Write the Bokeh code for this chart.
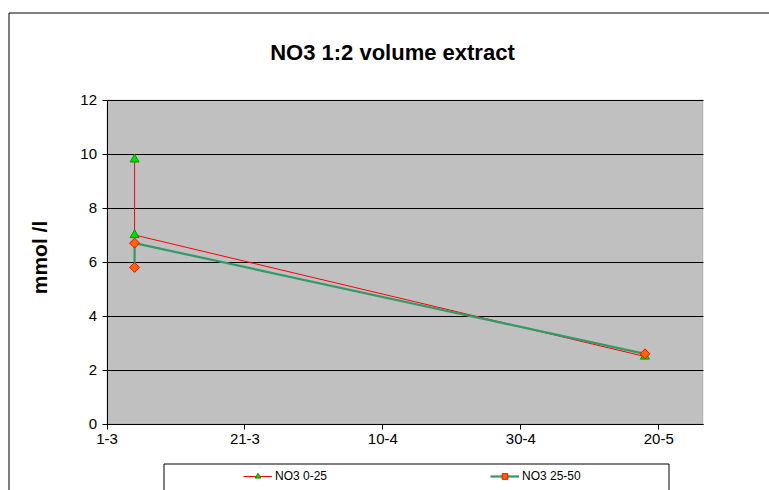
import math
import pandas as pd
from bokeh.plotting import figure
from bokeh.models import (Range1d, FixedTicker, Legend, LegendItem, Label, BoxAnnotation)
from bokeh.embed import file_html
from bokeh.resources import INLINE

# ---- data ----
title_text = "NO3  1:2 volume extract"
y_label = "mmol /l"
origin_date = "2007-03-01"
end_date = "2007-05-26 10:00"
sample_dates = ["2007-03-05", "2007-03-05", "2007-05-18"]
no3_0_25 = [9.8, 7.0, 2.5]
no3_25_50 = [5.8, 6.7, 2.6]
tick_dates = ["2007-03-01", "2007-03-21", "2007-04-10", "2007-04-30", "2007-05-20"]
tick_labels = ["1-3", "21-3", "10-4", "30-4", "20-5"]
y_ticks = [0, 2, 4, 6, 8, 10, 12]
series_names = ["NO3 0-25", "NO3 25-50"]

origin = pd.Timestamp(origin_date)
def days(d):
    return (pd.Timestamp(d) - origin) / pd.Timedelta(days=1)

x_vals = [days(d) for d in sample_dates]
x_ticks = [days(d) for d in tick_dates]
x_max = days(end_date)
y_max = max(y_ticks)

# ---- layout (pixels) ----
W, H = 769, 490
PX_LEFT, PX_RIGHT, PX_TOP, PX_BOTTOM = 106.5, 702.5, 99.5, 423.5
sx = (PX_RIGHT - PX_LEFT) / x_max
sy = (PX_BOTTOM - PX_TOP) / y_max

def px_to_x(px):
    return (px - PX_LEFT) / sx

def px_to_y(py):
    return (PX_BOTTOM - py) / sy

FONT = "Liberation Sans"

p = figure(width=W, height=H, output_backend="svg", toolbar_location=None,
           x_range=Range1d(px_to_x(0), px_to_x(W)),
           y_range=Range1d(px_to_y(H), px_to_y(0)),
           min_border=0)
p.title.visible = False
p.background_fill_color = "white"
p.border_fill_color = "white"
p.outline_line_color = None
p.xgrid.visible = False

# plot area
area = BoxAnnotation(left=0, right=x_max, bottom=0, top=y_max,
                     fill_color="#C0C0C0", fill_alpha=1,
                     line_color="#808080", line_width=1, level="image")
p.add_layout(area)

# horizontal gridlines, limited to the plot area
p.ygrid.ticker = FixedTicker(ticks=y_ticks)
p.ygrid.bounds = (0, y_max)
p.ygrid.cross_bounds = (0, x_max)
p.ygrid.grid_line_color = "black"
p.ygrid.grid_line_width = 1
p.ygrid.level = "underlay"

# axes
p.xaxis.fixed_location = 0
p.yaxis.fixed_location = 0
p.xaxis.bounds = (0, x_max)
p.yaxis.bounds = (0, y_max)
p.yaxis.ticker = FixedTicker(ticks=y_ticks)
p.xaxis.ticker = FixedTicker(ticks=x_ticks)
p.xaxis.major_label_overrides = {t: l for t, l in zip(x_ticks, tick_labels)}
for ax in (p.xaxis[0], p.yaxis[0]):
    ax.axis_line_color = "black"
    ax.major_tick_line_color = "black"
    ax.major_tick_out = 5
    ax.major_tick_in = 0
    ax.minor_tick_line_color = None
    ax.major_label_text_font = FONT
    ax.major_label_text_font_size = "15px"
    ax.major_label_text_color = "black"
    ax.major_label_standoff = 5

# outer chart border (open at right and bottom; ends at the canvas edge)
p.line([px_to_x(8.5), px_to_x(8.5), px_to_x(W)],
       [px_to_y(H), px_to_y(12.5), px_to_y(12.5)],
       line_color="black", line_width=1)

# legend frame (open at the bottom; ends at the canvas edge)
p.line([px_to_x(163.5), px_to_x(163.5), px_to_x(668.5), px_to_x(668.5)],
       [px_to_y(H), px_to_y(463.5), px_to_y(463.5), px_to_y(H)],
       line_color="black", line_width=1)

# series 1: red line, green triangles
l1 = p.line(x_vals, no3_0_25, line_color="#FF0000", line_width=1)
m1 = p.scatter(x_vals, no3_0_25, marker="triangle", size=9,
               fill_color="#00DD00", line_color="#009900")
# series 2: green line, orange/red diamonds (square turned 45 degrees)
l2 = p.line(x_vals, no3_25_50, line_color="#339966", line_width=2.2)
m2 = p.scatter(x_vals, no3_25_50, marker="square", size=7, angle=math.pi / 4,
               fill_color="#FF6600", line_color="#FF0000")

# title
p.add_layout(Label(x=395, y=H - 51.7, x_units="screen", y_units="screen", text=title_text,
                   text_align="center", text_baseline="alphabetic",
                   text_font=FONT, text_font_size="22px", text_font_style="bold",
                   text_color="black"))

# y axis title
p.add_layout(Label(x=39, y=H - 257, x_units="screen", y_units="screen", text=y_label,
                   angle=math.pi / 2, text_align="center", text_baseline="middle",
                   text_font=FONT, text_font_size="21px", text_font_style="bold",
                   text_color="black"))

legend = Legend(items=[LegendItem(label=series_names[0], renderers=[l1, m1]),
                       LegendItem(label=series_names[1], renderers=[l2, m2])],
                location=(237, H - 489), orientation="horizontal",
                padding=6, spacing=0, margin=0,
                glyph_width=29, glyph_height=14, label_height=14, label_width=215,
                label_standoff=3, border_line_alpha=0, background_fill_alpha=0,
                label_text_font=FONT, label_text_font_size="12px",
                label_text_color="black")
p.add_layout(legend)

open("out.html", "w").write(file_html(p, INLINE))
